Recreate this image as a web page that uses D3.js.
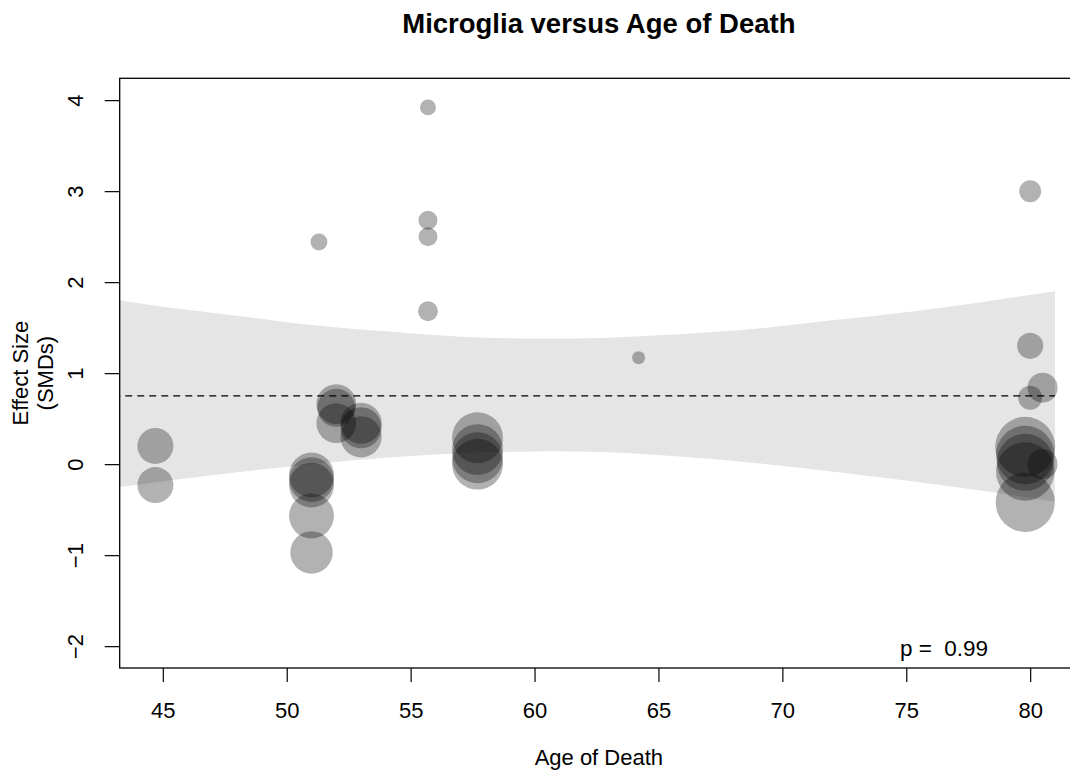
<!DOCTYPE html>
<html>
<head>
<meta charset="utf-8">
<script src="https://cdn.jsdelivr.net/npm/d3@7"></script>
<style>
  body { margin: 0; background: #fff; }
  text { font-family: "Liberation Sans", Arial, Helvetica, sans-serif; fill: #000; }
</style>
</head>
<body>
<svg id="chart"></svg>
<script>
// study points: age of death, effect size (SMD), weight (drives circle size)
const ages = [44.7, 44.7, 51.0, 51.0, 51.0, 51.0, 51.0, 51.3, 52.0, 52.0, 52.0, 53.0, 53.0, 53.0,
  55.7, 55.7, 55.7, 55.7, 57.7, 57.7, 57.7, 57.7, 64.2,
  79.8, 79.8, 79.8, 79.8, 79.8, 80.0, 80.0, 80.0, 80.5, 80.5];
const smds = [0.20, -0.23, -0.12, -0.17, -0.23, -0.57, -0.97, 2.44, 0.66, 0.62, 0.45, 0.45, 0.40, 0.30,
  3.92, 2.68, 2.50, 1.68, 0.29, 0.16, 0.07, 0.00, 1.17,
  0.19, 0.10, 0.02, -0.08, -0.42, 3.00, 1.30, 0.73, 0.84, 0.00];
const weights = [36, 36, 56, 56, 56, 56, 50, 8, 44, 40, 44, 47, 47, 47,
  7, 10, 10, 11, 72, 72, 72, 72, 4.7,
  100, 95, 90, 95, 97, 13.4, 19, 16, 25, 25];

// confidence band of the meta-regression
const bandAges = [43, 45, 48, 51, 54, 57, 60, 63, 66, 69, 72, 75, 78, 81];
const bandUpper = [1.81, 1.73, 1.63, 1.53, 1.46, 1.40, 1.38, 1.39, 1.43, 1.49, 1.58, 1.67, 1.78, 1.90];
const bandLower = [-0.26, -0.19, -0.09, 0.00, 0.07, 0.12, 0.14, 0.13, 0.08, 0.01, -0.08, -0.18, -0.29, -0.41];
const fitAges = [43, 81];
const fitValues = [0.75, 0.75];

const xTicks = [45, 50, 55, 60, 65, 70, 75, 80];
const yTicks = [-2, -1, 0, 1, 2, 3, 4];
const pLabel = "p =  0.99";

const width = 1070;
const height = 784;
const margin = { top: 78.3, right: -8, bottom: 116, left: 119.7 };

const svg = d3.select("#chart")
  .attr("width", width)
  .attr("height", height);

const x = d3.scaleLinear()
  .domain([43.26, 81.93])
  .range([margin.left, width - margin.right]);

const y = d3.scaleLinear()
  .domain([-2.24, 4.24])
  .range([height - margin.bottom, margin.top]);

const r = d3.scaleSqrt()
  .domain([0, 100])
  .range([0, 30]);

svg.append("defs")
  .append("clipPath")
  .attr("id", "plot-clip")
  .append("rect")
  .attr("x", margin.left)
  .attr("y", margin.top)
  .attr("width", width - margin.right - margin.left)
  .attr("height", height - margin.bottom - margin.top);

const plot = svg.append("g").attr("clip-path", "url(#plot-clip)");

const band = bandAges.map((a, i) => ({ age: a, lo: bandLower[i], hi: bandUpper[i] }));

plot.append("path")
  .datum(band)
  .attr("fill", "#e5e5e5")
  .attr("d", d3.area()
    .x((d) => x(d.age))
    .y0((d) => y(d.lo))
    .y1((d) => y(d.hi))
    .curve(d3.curveNatural));

plot.append("path")
  .datum(fitAges.map((a, i) => ({ age: a, v: fitValues[i] })))
  .attr("fill", "none")
  .attr("stroke", "#000")
  .attr("stroke-width", 1.4)
  .attr("stroke-dasharray", "7,5")
  .attr("d", d3.line().x((d) => x(d.age)).y((d) => y(d.v)));

const points = ages.map((a, i) => ({ age: a, smd: smds[i], w: weights[i] }));

plot.selectAll("circle.study")
  .data(points)
  .enter()
  .append("circle")
  .attr("class", "study")
  .attr("cx", (d) => x(d.age))
  .attr("cy", (d) => y(d.smd))
  .attr("r", (d) => r(d.w))
  .attr("fill", "#000")
  .attr("fill-opacity", 0.3);

// box
svg.append("rect")
  .attr("x", margin.left)
  .attr("y", margin.top)
  .attr("width", width - margin.right - margin.left)
  .attr("height", height - margin.bottom - margin.top)
  .attr("fill", "none")
  .attr("stroke", "#000")
  .attr("stroke-width", 1.3);

// x axis
const xAxis = svg.append("g")
  .attr("transform", `translate(0, ${height - margin.bottom})`)
  .call(d3.axisBottom(x).tickValues(xTicks).tickSize(14).tickPadding(20).tickFormat(d3.format("d")));
xAxis.select(".domain").remove();
xAxis.selectAll("line").attr("stroke-width", 1.2);
xAxis.selectAll("text")
  .attr("font-size", 22)
  .attr("font-family", "Liberation Sans, Arial, sans-serif");

// y axis, labels rotated like base R
const yAxis = svg.append("g")
  .attr("transform", `translate(${margin.left}, 0)`)
  .call(d3.axisLeft(y).tickValues(yTicks).tickSize(15).tickFormat((d) => d < 0 ? "\u2212" + Math.abs(d) : d));
yAxis.select(".domain").remove();
yAxis.selectAll("line").attr("stroke-width", 1.2);
yAxis.selectAll("text")
  .attr("font-size", 22)
  .attr("font-family", "Liberation Sans, Arial, sans-serif")
  .attr("x", null)
  .attr("dy", null)
  .attr("text-anchor", "middle")
  .attr("transform", "translate(-37, 0) rotate(-90)");

svg.append("text")
  .attr("x", (margin.left + width - margin.right) / 2)
  .attr("y", 33)
  .attr("text-anchor", "middle")
  .attr("font-size", 27.5)
  .attr("font-weight", "bold")
  .text("Microglia versus Age of Death");

svg.append("text")
  .attr("x", (margin.left + width - margin.right) / 2)
  .attr("y", 765)
  .attr("text-anchor", "middle")
  .attr("font-size", 22)
  .text("Age of Death");

const yLabel = svg.append("text")
  .attr("text-anchor", "middle")
  .attr("font-size", 22)
  .attr("transform", `translate(28, ${(margin.top + height - margin.bottom) / 2}) rotate(-90)`);
yLabel.append("tspan").attr("x", 0).attr("dy", 0).text("Effect Size");
yLabel.append("tspan").attr("x", 0).attr("dy", 25).text("(SMDs)");

svg.append("text")
  .attr("x", 944)
  .attr("y", 656)
  .attr("text-anchor", "middle")
  .attr("font-size", 22.5)
  .style("white-space", "pre")
  .text(pLabel);
</script>
</body>
</html>
